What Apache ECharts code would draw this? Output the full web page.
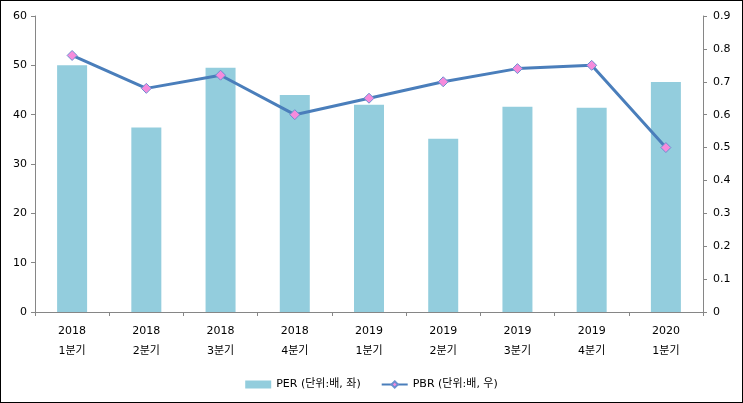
<!DOCTYPE html>
<html lang="ko">

<head>
    <meta charset="UTF-8">
    <title>PER / PBR</title>
    <script src="https://cdn.jsdelivr.net/npm/echarts@6/dist/echarts.min.js"></script>
    <style>
        html, body {
            margin: 0;
            padding: 0;
            background: #fff;
        }

        #main {
            width: 743px;
            height: 403px;
            box-sizing: border-box;
            border: 1px solid #000;
        }
    </style>
</head>

<body>
    <div id="main"></div>
</body>

<script>
    var years = ['2018', '2018', '2018', '2018', '2019', '2019', '2019', '2019', '2020'];
    var quarters = ['1분기', '2분기', '3분기', '4분기', '1분기', '2분기', '3분기', '4분기', '1분기'];
    var perValues = [50.0, 37.4, 49.5, 44.0, 42.0, 35.1, 41.6, 41.4, 46.6];
    var pbrValues = [0.78, 0.68, 0.72, 0.60, 0.65, 0.70, 0.74, 0.75, 0.50];
    var leftTicks = [0, 10, 20, 30, 40, 50, 60];
    var rightTicks = [0, 0.1, 0.2, 0.3, 0.4, 0.5, 0.6, 0.7, 0.8, 0.9];

    var categories = [];
    for (let i = 0; i < years.length; i++) {
        categories.push(years[i] + '\n' + quarters[i]);
    }

    var font = "'DejaVu Sans', 'Noto Sans CJK KR', sans-serif";
    var axisGray = '#868686';

    var chartDom = document.getElementById('main');
    var myChart = echarts.init(chartDom);
    var option;

    option = {
        animation: false,
        textStyle: { fontFamily: font },
        legend: {
            top: 373,
            left: 'center',
            itemGap: 20,
            itemWidth: 26,
            itemHeight: 8,
            textStyle: { fontSize: 11, color: '#000', fontFamily: font },
            data: [
                { name: 'PER (단위:배, 좌)', icon: 'rect' },
                { name: 'PBR (단위:배, 우)' }
            ]
        },
        grid: {
            left: 34,
            right: 39,
            top: 15,
            bottom: 90
        },
        xAxis: {
            type: 'category',
            data: categories,
            axisLine: { lineStyle: { color: axisGray } },
            axisTick: { show: true, length: 4, alignWithLabel: false, lineStyle: { color: axisGray } },
            axisLabel: {
                fontSize: 11,
                color: '#000',
                lineHeight: 20,
                margin: 9,
                interval: 0
            }
        },
        yAxis: [
            {
                type: 'value',
                min: leftTicks[0],
                max: leftTicks[leftTicks.length - 1],
                interval: 10,
                splitLine: { show: false },
                axisLine: { show: true, lineStyle: { color: axisGray } },
                axisTick: { show: true, length: 4, lineStyle: { color: axisGray } },
                axisLabel: { fontSize: 11, color: '#000', margin: 8 }
            },
            {
                type: 'value',
                min: rightTicks[0],
                max: rightTicks[rightTicks.length - 1],
                interval: 0.1,
                splitLine: { show: false },
                axisLine: { show: true, lineStyle: { color: axisGray } },
                axisTick: { show: true, length: 4, lineStyle: { color: axisGray } },
                axisLabel: {
                    fontSize: 11,
                    color: '#000',
                    margin: 10,
                    formatter: function (v) {
                        return rightTicks.indexOf(Math.round(v * 10) / 10) !== -1 ? String(Math.round(v * 10) / 10) : '';
                    }
                }
            }
        ],
        series: [
            {
                name: 'PER (단위:배, 좌)',
                type: 'bar',
                yAxisIndex: 0,
                barWidth: 30,
                itemStyle: { color: '#93CDDD' },
                data: perValues
            },
            {
                name: 'PBR (단위:배, 우)',
                type: 'line',
                yAxisIndex: 1,
                symbol: 'diamond',
                symbolSize: 10,
                lineStyle: { color: '#4A7EBB', width: 3 },
                itemStyle: { color: '#F68BDC', borderColor: '#6C8FD0', borderWidth: 1 },
                data: pbrValues
            }
        ]
    };
    myChart.setOption(option);
</script>

</html>
